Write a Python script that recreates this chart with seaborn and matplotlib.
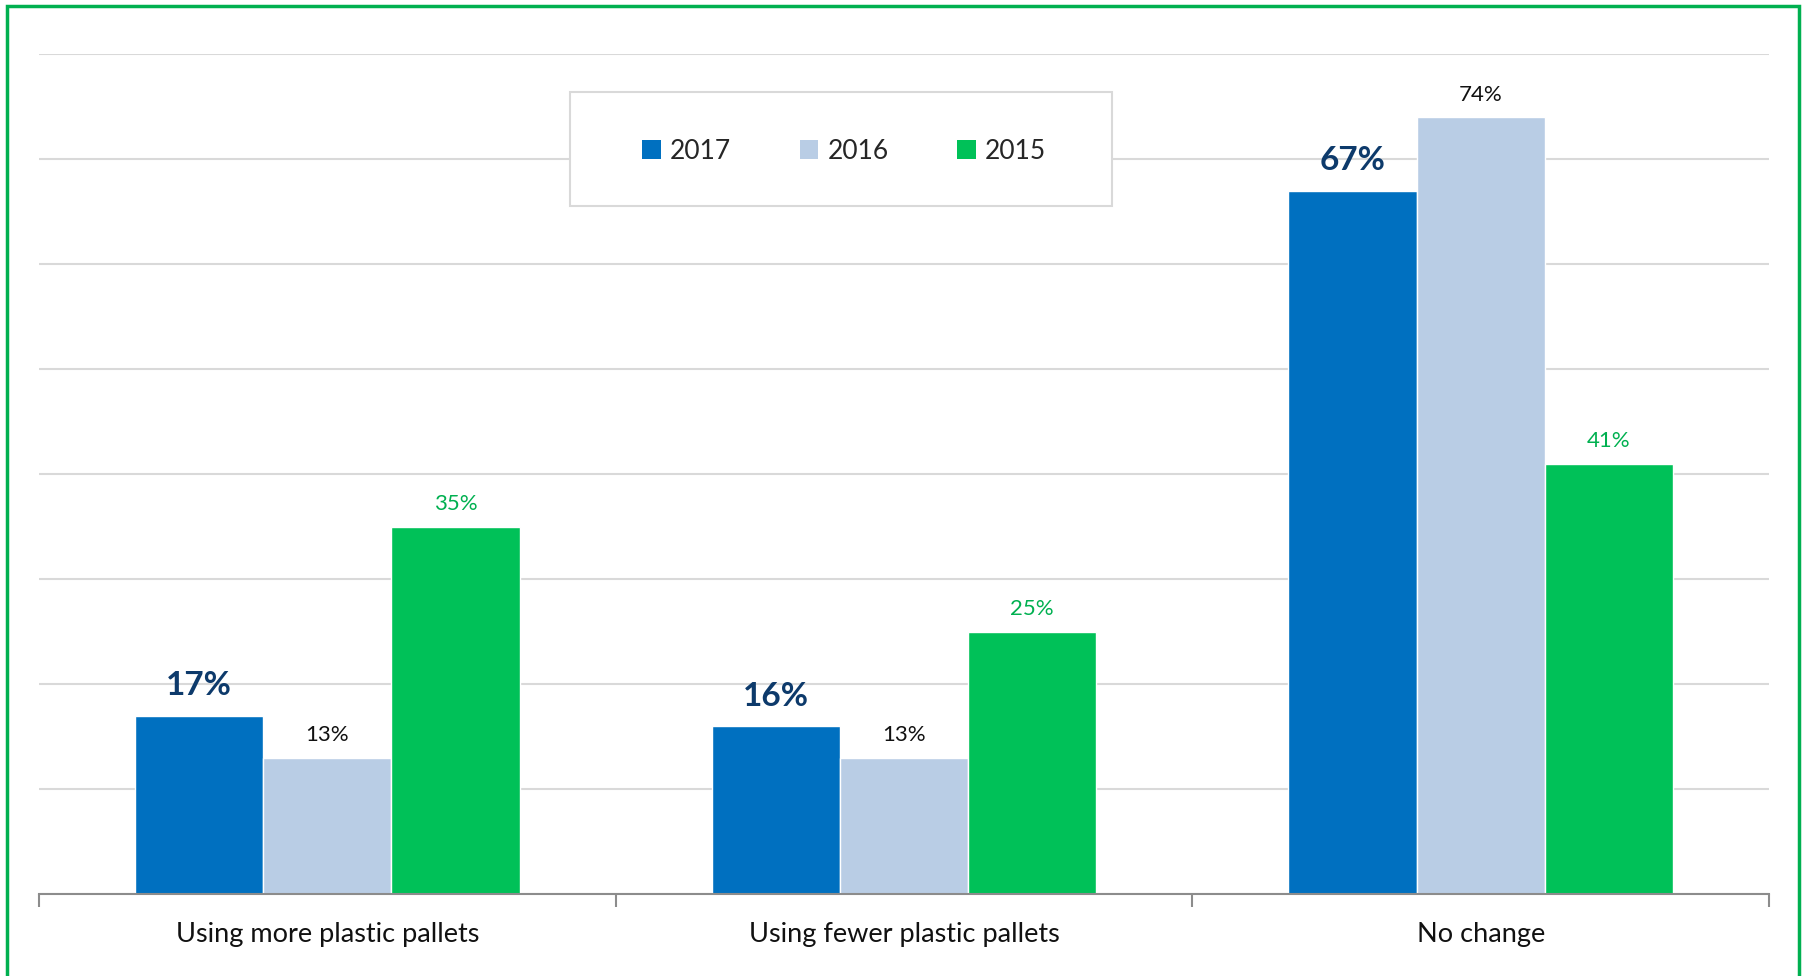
import seaborn as sns
import pandas as pd
from matplotlib import pyplot as plt
from matplotlib.patches import Rectangle, Patch

categories = ['Using more plastic pallets', 'Using fewer plastic pallets', 'No change']
years = ['2017', '2016', '2015']
v2017 = [0.17, 0.16, 0.67]
v2016 = [0.13, 0.13, 0.74]
v2015 = [0.35, 0.25, 0.41]

colors = {'2017': '#0070C0', '2016': '#B9CDE5', '2015': '#00C158'}
label_colors = {'2017': '#0D3A6B', '2016': '#111111', '2015': '#00B050'}

df = pd.DataFrame({
    'category': categories * 3,
    'year': ['2017'] * 3 + ['2016'] * 3 + ['2015'] * 3,
    'value': v2017 + v2016 + v2015,
})

sns.set_style('white')
plt.rcParams['font.family'] = ['Lato', 'DejaVu Sans']

fig = plt.figure(figsize=(18.05, 9.76), dpi=100)
ax = fig.add_axes([39 / 1805, 1 - 894 / 976, 1730 / 1805, 840 / 976])

sns.barplot(data=df, x='category', y='value', hue='year', hue_order=years,
            palette=colors, width=0.667, saturation=1, ax=ax, legend=False)

ax.set_ylim(0, 0.8)
ax.set_xlim(-0.5, 2.5)
ax.set_yticks([i / 10 for i in range(9)])
ax.set_yticklabels([])
ax.tick_params(axis='y', length=0)
ax.grid(axis='y', color='#D9D9D9', linewidth=1.5)
ax.set_axisbelow(True)
for s in ['left', 'right', 'top']:
    ax.spines[s].set_visible(False)
ax.spines['bottom'].set_color('#8C8C8C')
ax.spines['bottom'].set_linewidth(1.5)

ax.set_xticks([0, 1, 2])
ax.set_xticklabels(categories, fontsize=19.5, color='#111111')
ax.tick_params(axis='x', which='major', length=0, pad=20)
ax.set_xticks([-0.5, 0.5, 1.5, 2.5], minor=True)
ax.tick_params(axis='x', which='minor', bottom=True, direction='out', length=9,
               width=1.5, color='#8C8C8C')
ax.set_xlabel('')
ax.set_ylabel('')

for cont, yr in zip(ax.containers, years):
    if yr == '2017':
        ax.bar_label(cont, labels=[f'{v:.0%}' for v in cont.datavalues], padding=11,
                     fontsize=24, fontweight='bold', color=label_colors[yr])
    else:
        ax.bar_label(cont, labels=[f'{v:.0%}' for v in cont.datavalues], padding=9,
                     fontsize=16, color=label_colors[yr])

# legend box
ax.add_patch(Rectangle((0.307, 0.819), 0.313, 0.136, transform=ax.transAxes,
                       facecolor='white', edgecolor='#D9D9D9', linewidth=1.5, zorder=5))
handles = [Patch(facecolor=colors[y], edgecolor='none', label=y) for y in years]
leg = ax.legend(handles=handles, loc='center', bbox_to_anchor=(0.4655, 0.884), ncol=3,
                frameon=False, fontsize=19, handlelength=0.7, handleheight=0.7,
                handletextpad=0.35, columnspacing=2.6)
leg.set_zorder(6)

# green outer frame
fig.patches.append(Rectangle((7 / 1805, -0.05), 1792 / 1805, 1.05 - 6 / 976,
                             transform=fig.transFigure, fill=False,
                             edgecolor='#00B050', linewidth=2.5))

fig.savefig('out.png', dpi=100)
